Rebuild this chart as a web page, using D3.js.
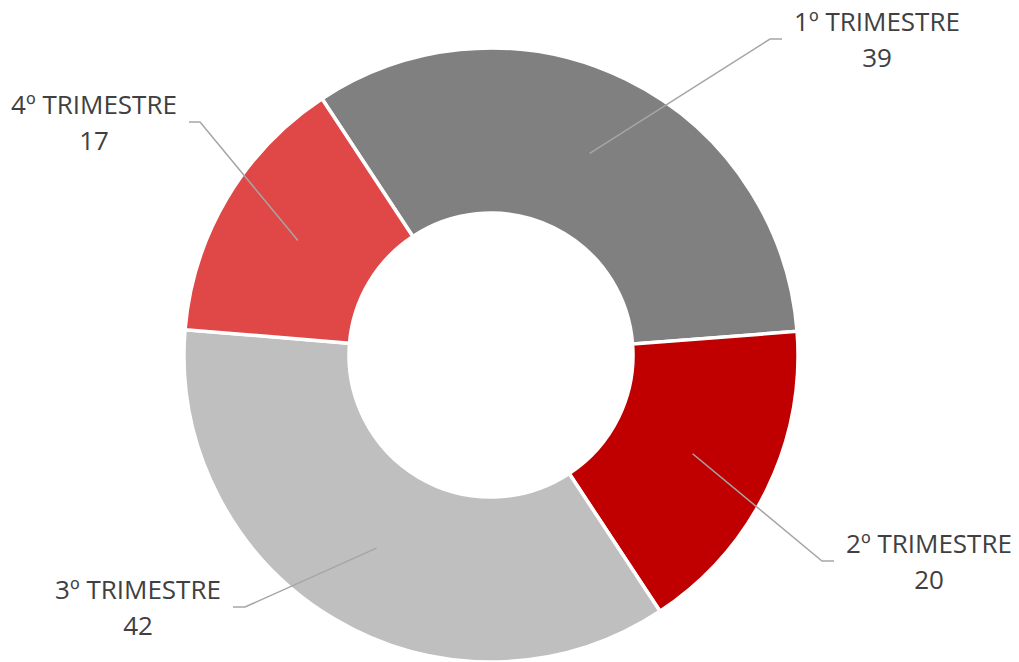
<!DOCTYPE html>
<meta charset="utf-8">
<style>
body { margin: 0; background: #fff; }
.slice { stroke: #fff; stroke-width: 3.5px; }
.leader { fill: none; stroke: #a6a6a6; stroke-width: 1.5px; }
.lbl { font: 26px "Open Sans", sans-serif; fill: #404040; text-anchor: middle; }
</style>
<svg width="1019" height="662"></svg>
<script src="https://cdn.jsdelivr.net/npm/d3@7/dist/d3.min.js"></script>
<script>

// data
var categories = ["1º TRIMESTRE", "2º TRIMESTRE", "3º TRIMESTRE", "4º TRIMESTRE"];
var values = [39, 20, 42, 17];
var colors = ["#808080", "#c00000", "#bfbfbf", "#e04747"];

// label layout: elbow offset from centre, side the tail goes to
var labelLayout = [
  {dx: 279, dy: -316, tail: 12},
  {dx: 331, dy: 206, tail: 12},
  {dx: -246, dy: 252, tail: -12},
  {dx: -291, dy: -233, tail: -11}
];

var svg = d3.select("svg"),
    cx = 491, cy = 355,
    outerR = 307, innerR = 142;

var g = svg.append("g").attr("transform", "translate(" + cx + "," + cy + ")");

var start = -33.4 * Math.PI / 180;
var pie = d3.pie().sort(null).value(function(d) { return d; })
    .startAngle(start).endAngle(start + 2 * Math.PI);

var arc = d3.arc().innerRadius(innerR).outerRadius(outerR);
var midArc = d3.arc().innerRadius((innerR + outerR) / 2).outerRadius((innerR + outerR) / 2);

var arcs = pie(values);

g.selectAll("path.slice")
  .data(arcs)
  .enter().append("path")
    .attr("class", "slice")
    .attr("fill", function(d, i) { return colors[i]; })
    .attr("d", arc);

g.selectAll("polyline")
  .data(arcs)
  .enter().append("polyline")
    .attr("class", "leader")
    .attr("points", function(d, i) {
      var c = midArc.centroid(d), L = labelLayout[i];
      return [c, [L.dx, L.dy], [L.dx + L.tail, L.dy]].map(function(p) { return p.join(","); }).join(" ");
    });

var lbl = g.selectAll("text.lbl")
  .data(arcs)
  .enter().append("text")
    .attr("class", "lbl")
    .attr("transform", function(d, i) {
      var L = labelLayout[i];
      var x = L.dx + L.tail + (L.tail > 0 ? 1 : -1) * 95;
      return "translate(" + x + "," + (L.dy - 8) + ")";
    });

lbl.append("tspan").attr("x", 0).attr("dy", 0).text(function(d, i) { return categories[i]; });
lbl.append("tspan").attr("x", 0).attr("dy", 36).text(function(d) { return d.data; });

</script>
